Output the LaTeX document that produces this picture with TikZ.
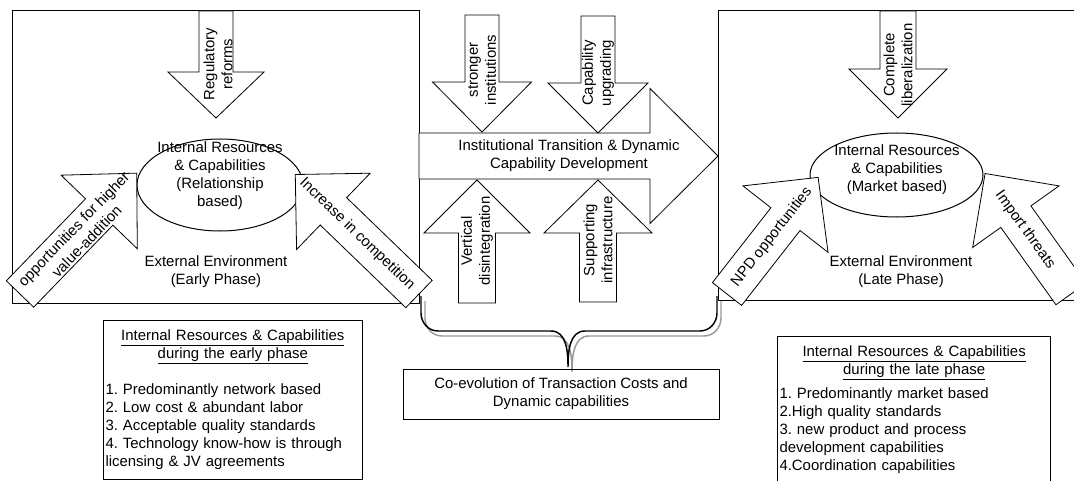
\documentclass[tikz,border=0pt]{standalone}
\usepackage{fontspec}
\setmainfont{Liberation Sans}
\frenchspacing
\usetikzlibrary{shapes.geometric}
\def\blockarrow[#1](#2)(#3:#4:#5:#6:#7){\draw[#1,shift={(#2)},rotate=#3] (0,-#5) -- ({#4-#7},-#5) -- ({#4-#7},-#6) -- (#4,0) -- ({#4-#7},#6) -- ({#4-#7},#5) -- (0,#5) -- cycle;}

\begin{document}
\begin{tikzpicture}[x=0.75pt,y=-0.75pt,
		every node/.style={font=\fontsize{11.2}{13.5}\selectfont},
		barrow/.style={draw,fill=white,line width=0.6pt},
		lbl/.style={align=center,inner sep=0pt},
		core/.style={draw,ellipse,fill=white,line width=0.75pt,inner sep=0pt},
		infobox/.style={draw,line width=0.75pt,inner xsep=1.5pt,inner ysep=7pt,align=left,anchor=north west},
		bracepath/.style={line width=1.1pt,black},
		braceshade/.style={line width=1.1pt,black!40}]
			%%%%% START %%%%%
			\useasboundingbox (0,0) rectangle (1074,481);
			\clip (0,0) rectangle (1074,481);
			
			% environments
			\draw[line width=0.75pt] (12,11) rectangle (419,303);
			\draw[line width=0.75pt] (718,11) rectangle (1100,300);
			
			\node[core,minimum width=124.5pt,minimum height=69pt] (relcore) at (220,185) {};
			\node[core,minimum width=129.75pt,minimum height=63pt] (mktcore) at (896.5,175) {};
			
			% brace
			\coordinate (bl) at (421,296);
			\coordinate (br) at (717,296);
			\coordinate (tip) at (568,367);
			\draw[braceshade,transform canvas={shift={(4,5)}}] (bl) -- ++(0,17) to[out=-90,in=180] ++(17,18) -- ++(113,0) to[out=0,in=90] (tip) to[out=90,in=180] ++(17,-36) -- ++(115,0) to[out=0,in=-90] ++(17,-18) -- (br);
			\draw[bracepath] (bl) -- ++(0,17) to[out=-90,in=180] ++(17,18) -- ++(113,0) to[out=0,in=90] (tip) to[out=90,in=180] ++(17,-36) -- ++(115,0) to[out=0,in=-90] ++(17,-18) -- (br);
			
			% early phase arrows
			\blockarrow[barrow](216,11)(-90:107:17:48:46)
			\blockarrow[barrow](20,294)(46:168:19:53:54)
			\blockarrow[barrow](419,294)(136:172:19:53:53)
			
			% transition
			\blockarrow[barrow](419,156)(0:299:23:67.5:68)
			\blockarrow[barrow](482,15)(-90:117:17:49.5:50)
			\blockarrow[barrow](598,16)(-90:117:17:50:50)
			\blockarrow[barrow](477,303)(90:123:18.5:53:53)
			\blockarrow[barrow](598,302)(90:122:18.5:54:53)
			
			% late phase arrows
			\blockarrow[barrow](898,11)(-90:107:18:49:49)
			\blockarrow[barrow](727,294)(52:148:18.5:54:53)
			\blockarrow[barrow](1071,294)(125.5:148:18.5:53:53)
			
			% labels
			\node[lbl,rotate=90] (regref) at (218,64) {Regulatory\\reforms};
			\node[lbl,rotate=46] (oppval) at (80,235) {opportunities for higher\\value-addition};
			\node[lbl,rotate=-44] (inccomp) at (357,234) {Increase in competition};
			\node[lbl] (reltext) at (220,176) {Internal Resources\\\& Capabilities\\(Relationship\\based)};
			\node[lbl] (earlyenv) at (216,272) {External Environment\\(Early Phase)};
			
			\node[lbl] (transit) at (569,156) {Institutional Transition \& Dynamic\\Capability Development};
			\node[lbl,rotate=90] (strinst) at (482,70) {stronger\\institutions};
			\node[lbl,rotate=90] (capup) at (598,73) {Capability\\upgrading};
			\node[lbl,rotate=90] (vertdis) at (477,241) {Vertical\\disintegration};
			\node[lbl,rotate=90] (suppinf) at (598,240) {Supporting\\infrastructure};
			
			\node[lbl,rotate=90] (complib) at (898,65) {Complete\\liberalization};
			\node[lbl,rotate=52] (npdopp) at (772,237) {NPD opportunities};
			\node[lbl,rotate=-54.5] (imthr) at (1025,230) {Import threats};
			\node[lbl] (mkttext) at (897,170) {Internal Resources\\\& Capabilities\\(Market based)};
			\node[lbl] (lateenv) at (901,272) {External Environment\\(Late Phase)};
			
			% bottom boxes
			\node[infobox,text width=191pt] (earlyrc) at (103,320) {\centering\underline{Internal Resources \& Capabilities}\\\underline{during the early phase}\par\vspace{13.5pt}\raggedright 1. Predominantly network based\\2. Low cost \& abundant labor\\3. Acceptable quality standards\\4. Technology know-how is through\\licensing \& JV agreements};
			\node[draw,line width=0.75pt,minimum width=237pt,minimum height=37.5pt,align=center] (coevo) at (561,394) {Co-evolution of Transaction Costs and\\Dynamic capabilities};
			\node[infobox,text width=202pt] (laterc) at (777,336) {\centering\underline{Internal Resources \& Capabilities}\\\underline{during the late phase}\par\vspace{4.5pt}\raggedright 1. Predominantly market based\\2.High quality standards\\3. new product and process\\development capabilities\\4.Coordination capabilities\rule[-14pt]{0pt}{14pt}};
			
			%%%%% END %%%%%
		\end{tikzpicture}
\end{document}
